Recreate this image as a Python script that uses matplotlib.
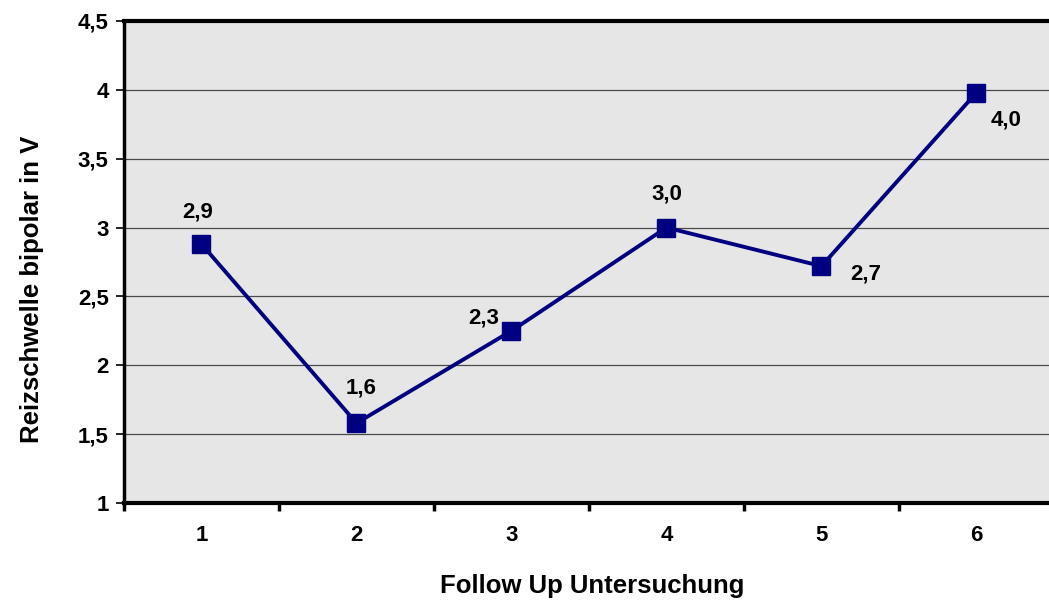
import matplotlib
matplotlib.use("Agg")
import matplotlib.pyplot as plt
from matplotlib.ticker import FixedLocator, FuncFormatter

categories = [1, 2, 3, 4, 5, 6]
values = [2.88, 1.58, 2.25, 3.0, 2.72, 3.98]
value_labels = ["2,9", "1,6", "2,3", "3,0", "2,7", "4,0"]
y_ticks = [1, 1.5, 2, 2.5, 3, 3.5, 4, 4.5]

plt.rcParams['font.family'] = ['Liberation Sans', 'DejaVu Sans']

fig = plt.figure(figsize=(10.49, 6.03), dpi=100)
ax = fig.add_axes([124/1049, 100/603, 1 - 124/1049, 482/603])
ax.set_facecolor('#e6e6e6')

ax.set_xlim(0.5, 6.468)
ax.set_ylim(1, 4.5)

for y in y_ticks[1:-1]:
    ax.axhline(y, color='#4a4a4a', lw=0.9, zorder=1)

ax.plot(categories, values, color='#000080', lw=2.8, marker='s', markersize=12.5,
        markerfacecolor='#000080', markeredgecolor='#000080', zorder=3)

offsets = [(-3, 23), (3, 25), (-20, 9), (0, 24), (32, -6), (21, -20)]
for x, v, lab, (dx, dy) in zip(categories, values, value_labels, offsets):
    ax.annotate(lab, (x, v), xytext=(dx, dy), textcoords='offset points',
                ha='center', va='center', fontsize=16, fontweight='bold', zorder=4)

ax.yaxis.set_major_locator(FixedLocator(y_ticks))
ax.yaxis.set_major_formatter(FuncFormatter(lambda v, p: ('%g' % v).replace('.', ',')))
ax.xaxis.set_major_locator(FixedLocator([c - 0.5 for c in categories] + [6.5]))
ax.xaxis.set_major_formatter(FuncFormatter(lambda v, p: ''))
ax.xaxis.set_minor_locator(FixedLocator(categories))
ax.xaxis.set_minor_formatter(FuncFormatter(lambda v, p: '%d' % v))

ax.tick_params(axis='y', direction='out', length=6, width=1.2, labelsize=16, pad=5)
ax.tick_params(axis='x', which='major', direction='out', length=6, width=2.5)
ax.tick_params(axis='x', which='minor', length=0, labelsize=16, pad=16)
for t in ax.get_yticklabels() + ax.get_xticklabels(minor=True):
    t.set_fontweight('bold')

ax.spines['left'].set_linewidth(2.5)
ax.spines['bottom'].set_linewidth(3)
ax.spines['top'].set_linewidth(3)
ax.spines['right'].set_visible(False)

ax.set_xlabel('Follow Up Untersuchung', fontsize=18.5, fontweight='bold')
ax.set_ylabel('Reizschwelle bipolar in V', fontsize=18.5, fontweight='bold')
ax.xaxis.label.set_va('center')
ax.yaxis.label.set_va('center')
ax.xaxis.set_label_coords((592 - 124) / 925, (503 - 586) / 482)
ax.yaxis.set_label_coords((32 - 124) / 925, (503 - 289) / 482)

fig.savefig('out.png', dpi=100)
